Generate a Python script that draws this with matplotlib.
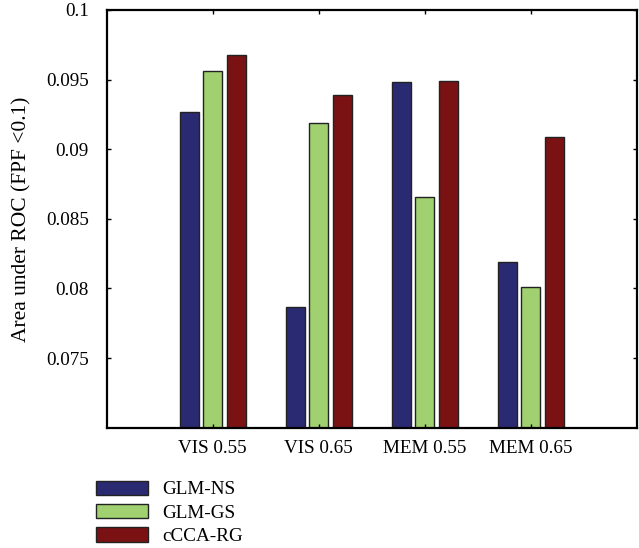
import numpy as np
import matplotlib
matplotlib.use('Agg')
import matplotlib.pyplot as plt

# Area under ROC (FPF < 0.1) per condition and method
conditions = ['VIS 0.55', 'VIS 0.65', 'MEM 0.55', 'MEM 0.65']
methods = ['GLM-NS', 'GLM-GS', 'cCCA-RG']
glm_ns = [0.0927, 0.0787, 0.0948, 0.0819]
glm_gs = [0.0956, 0.0919, 0.0866, 0.0801]
ccca_rg = [0.0968, 0.0939, 0.0949, 0.0909]
colors = ['#2a2a72', '#a0d070', '#7a1214']

plt.rcParams['font.family'] = ['Liberation Serif', 'DejaVu Serif']
plt.rcParams['font.size'] = 13.8

fig = plt.figure(figsize=(6.39, 5.48), dpi=100)
ax = fig.add_axes([0.167, 0.2195, 0.8295, 0.7623])

x = np.arange(1, len(conditions) + 1)
step = 0.222
width = 0.182
series = [glm_ns, glm_gs, ccca_rg]
bars = []
for i, vals in enumerate(series):
    b = ax.bar(x + (i - 1) * step, vals, width, color=colors[i],
               edgecolor='#222222', linewidth=1.0, label=methods[i])
    bars.append(b)

ax.set_xlim(0, 5)
ax.set_ylim(0.07, 0.1)
ax.set_xticks(x)
ax.set_xticklabels(conditions)
ax.set_yticks([0.075, 0.08, 0.085, 0.09, 0.095, 0.1])
ax.set_yticklabels(['0.075', '0.08', '0.085', '0.09', '0.095', '0.1'])
ax.tick_params(direction='in', length=3, width=1, top=True, right=True)
ax.tick_params(axis='y', pad=13)
ax.tick_params(axis='x', pad=9)
for s in ax.spines.values():
    s.set_linewidth(1.6)
ax.set_ylabel('Area under ROC (FPF <0.1)', fontsize=15.5, labelpad=10)

fig.legend(handles=bars, labels=methods, loc='upper left',
           bbox_to_anchor=(0.139, 0.137), frameon=False,
           handlelength=2.7, handleheight=0.75, handletextpad=0.75,
           labelspacing=0.3, borderaxespad=0)

fig.savefig('out.png', dpi=100)
